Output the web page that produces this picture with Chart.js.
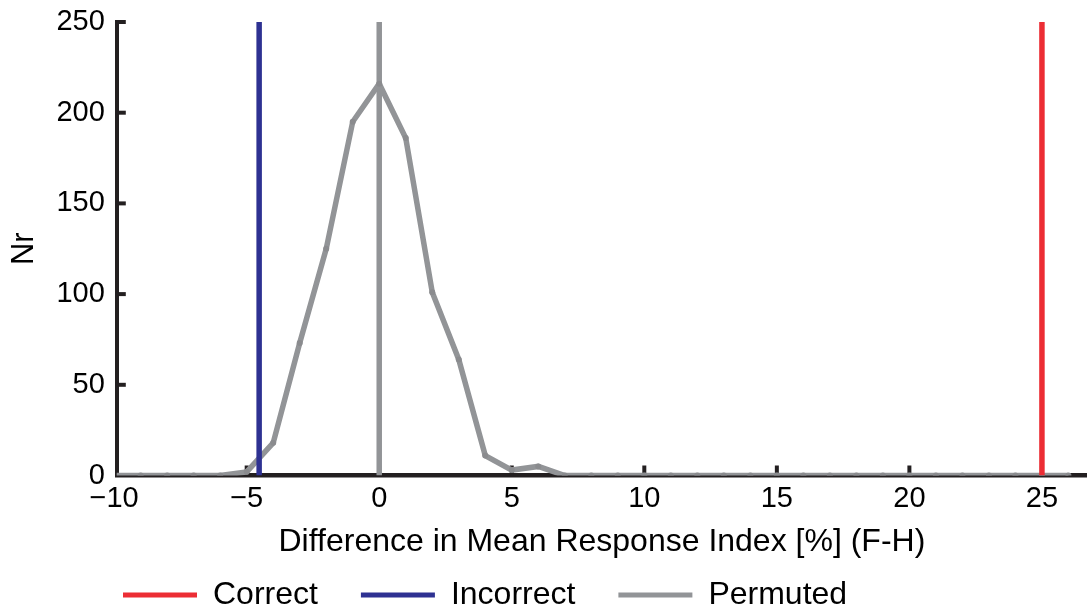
<!DOCTYPE html>
<html>
<head>
<meta charset="utf-8">
<script src="https://cdn.jsdelivr.net/npm/chart.js@4"></script>
<style>
  body { margin: 0; background: #fff; }
  canvas { display: block; }
</style>
</head>
<body>
<canvas id="myChart" width="1087" height="609"></canvas>
<script>
// histogram of the permuted differences
var binCenters = [-10, -9, -8, -7, -6, -5, -4, -3, -2, -1, 0, 1, 2, 3, 4, 5, 6, 7, 8, 9, 10,
                  11, 12, 13, 14, 15, 16, 17, 18, 19, 20, 21, 22, 23, 24, 25, 26];
var permutedCounts = [0, 0, 0, 0, 0, 2, 18, 73, 125, 195, 216, 186, 101, 64, 11, 3, 5, 0, 0, 0, 0,
                      0, 0, 0, 0, 0, 0, 0, 0, 0, 0, 0, 0, 0, 0, 0, 0];
// observed values drawn as vertical lines
var correctValue = 25;
var incorrectValue = -4.53;
var permutedMean = 0;

var xTickValues = [-10, -5, 0, 5, 10, 15, 20, 25];
var xTickLabels = ['\u221210', '\u22125', '0', '5', '10', '15', '20', '25'];
var yTickValues = [0, 50, 100, 150, 200, 250];

var RED = '#ec2d34', BLUE = '#2e3192', GRAY = '#929497', INK = '#231f20';
var FONT = 'Liberation Sans, Arial, sans-serif';

function vline(x) {
  return [{x: x, y: 0}, {x: x, y: 250}];
}

var permutedPoints = binCenters.map(function (x, i) {
  return {x: x, y: permutedCounts[i]};
});

// tick marks point inwards like the original figure
var innerTicks = {
  id: 'innerTicks',
  beforeDatasetsDraw: function (chart) {
    var ctx = chart.ctx, a = chart.chartArea;
    var xs = chart.scales.x, ys = chart.scales.y;
    ctx.save();
    ctx.strokeStyle = INK;
    ctx.lineWidth = 4;
    xTickValues.forEach(function (v) {
      if (v <= xs.min || v > xs.max) return;
      var px = xs.getPixelForValue(v);
      ctx.beginPath();
      ctx.moveTo(px, a.bottom);
      ctx.lineTo(px, a.bottom - 10);
      ctx.stroke();
    });
    yTickValues.forEach(function (v) {
      if (v === 0) return;
      var py = ys.getPixelForValue(v);
      ctx.beginPath();
      ctx.moveTo(a.left, py);
      ctx.lineTo(a.left + 9, py);
      ctx.stroke();
    });
    ctx.restore();
  },
  afterLayout: function (chart) {
    // put the legend row where it sits in the figure
    chart.legend.left = 123 - 43;
    chart.legend.top = 595 - 43 - 16;
  }
};

var ctx = document.getElementById('myChart').getContext('2d');
var chart = new Chart(ctx, {
  type: 'line',
  data: {
    datasets: [{
      label: 'Correct',
      data: vline(correctValue),
      borderColor: RED,
      backgroundColor: RED,
      borderWidth: 5.5,
      pointRadius: 0
    }, {
      label: 'Incorrect',
      data: vline(incorrectValue),
      borderColor: BLUE,
      backgroundColor: BLUE,
      borderWidth: 5.5,
      pointRadius: 0
    }, {
      label: 'Permuted',
      data: permutedPoints,
      borderColor: GRAY,
      backgroundColor: GRAY,
      borderWidth: 5.5,
      pointRadius: 3,
      pointBackgroundColor: '#8a8b8e',
      pointBorderWidth: 0,
      tension: 0
    }, {
      label: 'Permuted mean',
      data: vline(permutedMean),
      borderColor: GRAY,
      backgroundColor: GRAY,
      borderWidth: 5.5,
      pointRadius: 0
    }]
  },
  options: {
    responsive: false,
    animation: false,
    layout: { autoPadding: false, padding: { top: 22, right: 0, left: 0, bottom: 0 } },
    plugins: {
      tooltip: { enabled: false },
      legend: {
        position: 'bottom',
        align: 'start',
        maxHeight: 30,
        labels: {
          color: '#000',
          font: { family: FONT, size: 32 },
          boxWidth: 74,
          boxHeight: 5,
          padding: 43,
          filter: function (item) { return item.datasetIndex < 3; },
          generateLabels: function (chart) {
            return chart.data.datasets.map(function (ds, i) {
              return {
                text: ds.label,
                fillStyle: ds.borderColor,
                strokeStyle: ds.borderColor,
                lineWidth: 0,
                datasetIndex: i
              };
            });
          }
        }
      }
    },
    scales: {
      x: {
        type: 'linear',
        min: -9.9,
        max: 26.7,
        grid: { display: false, drawTicks: false },
        border: { display: true, color: INK, width: 4.5 },
        afterBuildTicks: function (scale) {
          scale.ticks = xTickValues.map(function (v) { return {value: v}; });
        },
        afterFit: function (scale) { scale.height = 103.5; },
        ticks: {
          color: '#000',
          padding: 6,
          autoSkip: false,
          maxRotation: 0,
          font: { family: FONT, size: 29 },
          callback: function (value, index) { return xTickLabels[index]; }
        },
        title: {
          display: true,
          text: 'Difference in Mean Response Index [%] (F-H)',
          color: '#000',
          font: { family: FONT, size: 32 },
          padding: { top: 0, bottom: 18 }
        }
      },
      y: {
        min: 0,
        max: 250,
        grid: { display: false, drawTicks: false },
        border: { display: true, color: INK, width: 4 },
        afterBuildTicks: function (scale) {
          scale.ticks = yTickValues.map(function (v) { return {value: v}; });
        },
        afterFit: function (scale) {
          scale.width = 116.8;
          scale.paddingTop = 0;
          scale.paddingBottom = 0;
        },
        ticks: {
          color: '#000',
          padding: 12,
          font: { family: FONT, size: 29 }
        },
        title: {
          display: true,
          text: 'Nr',
          color: '#000',
          font: { family: FONT, size: 31 },
          padding: { top: 6, bottom: 0 }
        }
      }
    }
  },
  plugins: [innerTicks]
});
</script>
</body>
</html>
